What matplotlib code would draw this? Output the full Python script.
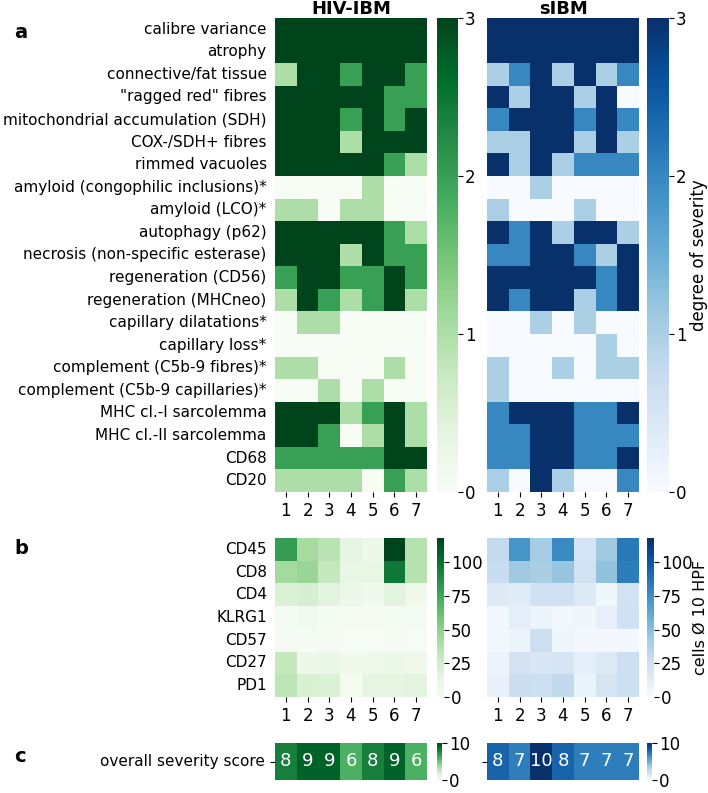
import numpy as np
import matplotlib
matplotlib.use("Agg")
import matplotlib.pyplot as plt
import seaborn as sns

matplotlib.rc('font', size=11)

patients = ['1', '2', '3', '4', '5', '6', '7']

rows_a = ['calibre variance', 'atrophy', 'connective/fat tissue',
          '"ragged red" fibres', 'mitochondrial accumulation (SDH)',
          'COX-/SDH+ fibres', 'rimmed vacuoles',
          'amyloid (congophilic inclusions)*', 'amyloid (LCO)*',
          'autophagy (p62)', 'necrosis (non-specific esterase)',
          'regeneration (CD56)', 'regeneration (MHCneo)',
          'capillary dilatations*', 'capillary loss*',
          'complement (C5b-9 fibres)*', 'complement (C5b-9 capillaries)*',
          'MHC cl.-I sarcolemma', 'MHC cl.-II sarcolemma', 'CD68', 'CD20']

hiv_a = [[3, 3, 3, 3, 3, 3, 3],
         [3, 3, 3, 3, 3, 3, 3],
         [1, 3, 3, 2, 3, 3, 2],
         [3, 3, 3, 3, 3, 2, 2],
         [3, 3, 3, 2, 3, 2, 3],
         [3, 3, 3, 1, 3, 3, 3],
         [3, 3, 3, 3, 3, 2, 1],
         [0, 0, 0, 0, 1, 0, 0],
         [1, 1, 0, 1, 1, 0, 0],
         [3, 3, 3, 3, 3, 2, 1],
         [3, 3, 3, 1, 3, 2, 2],
         [2, 3, 3, 2, 2, 3, 2],
         [1, 3, 2, 1, 2, 3, 1],
         [0, 1, 1, 0, 0, 0, 0],
         [0, 0, 0, 0, 0, 0, 0],
         [1, 1, 0, 0, 0, 1, 0],
         [0, 0, 1, 0, 1, 0, 0],
         [3, 3, 3, 1, 2, 3, 1],
         [3, 3, 2, 0, 1, 3, 1],
         [2, 2, 2, 2, 2, 3, 3],
         [1, 1, 1, 1, 0, 2, 1]]

sibm_a = [[3, 3, 3, 3, 3, 3, 3],
          [3, 3, 3, 3, 3, 3, 3],
          [1, 2, 3, 1, 3, 1, 2],
          [3, 1, 3, 3, 1, 3, 0],
          [2, 3, 3, 3, 2, 3, 2],
          [1, 1, 3, 3, 1, 3, 1],
          [3, 1, 3, 1, 2, 2, 2],
          [0, 0, 1, 0, 0, 0, 0],
          [1, 0, 0, 0, 1, 0, 0],
          [3, 2, 3, 1, 3, 3, 1],
          [2, 2, 3, 3, 2, 1, 3],
          [3, 3, 3, 3, 3, 2, 3],
          [3, 2, 3, 3, 1, 2, 3],
          [0, 0, 1, 0, 1, 0, 0],
          [0, 0, 0, 0, 0, 1, 0],
          [1, 0, 0, 1, 0, 1, 1],
          [1, 0, 0, 0, 0, 0, 0],
          [2, 3, 3, 3, 2, 2, 3],
          [2, 2, 3, 3, 2, 2, 2],
          [2, 2, 3, 3, 2, 2, 3],
          [1, 0, 3, 1, 0, 0, 2]]

rows_b = ['CD45', 'CD8', 'CD4', 'KLRG1', 'CD57', 'CD27', 'PD1']

hiv_b = [[80, 42, 35, 14, 8, 118, 36],
         [43, 47, 30, 12, 12, 97, 36],
         [20, 22, 16, 8, 6, 16, 7],
         [3, 4, 3, 2, 2, 3, 2],
         [2, 3, 2, 1, 1, 2, 1],
         [30, 8, 11, 6, 7, 10, 7],
         [33, 21, 20, 3, 14, 14, 16]]

sibm_b = [[30, 72, 42, 77, 21, 44, 85],
          [28, 44, 40, 47, 23, 48, 83],
          [15, 14, 24, 24, 16, 5, 23],
          [4, 12, 7, 4, 5, 10, 24],
          [4, 7, 26, 5, 3, 3, 3],
          [6, 22, 18, 20, 11, 16, 25],
          [9, 27, 26, 31, 8, 20, 25]]

score_hiv = [[8, 9, 9, 6, 8, 9, 6]]
score_sibm = [[8, 7, 10, 8, 7, 7, 7]]

W, H = 708, 793
fig = plt.figure(figsize=(W / 100, H / 100), dpi=100)


def box(x0, x1, y0, y1):
    # pixel box -> figure fraction
    return [x0 / W, 1 - y1 / H, (x1 - x0) / W, (y1 - y0) / H]


ax_a1 = fig.add_axes(box(275, 427, 18, 492))
cax_a1 = fig.add_axes(box(437, 458, 18, 492))
ax_a2 = fig.add_axes(box(487, 639, 18, 492))
cax_a2 = fig.add_axes(box(647, 669, 18, 492))

ax_b1 = fig.add_axes(box(275, 427, 538, 697))
cax_b1 = fig.add_axes(box(437, 444, 538, 697))
ax_b2 = fig.add_axes(box(487, 639, 538, 697))
cax_b2 = fig.add_axes(box(647, 654, 538, 697))

ax_c1 = fig.add_axes(box(275, 427, 743, 780))
cax_c1 = fig.add_axes(box(437, 442, 743, 780))
ax_c2 = fig.add_axes(box(487, 639, 743, 780))
cax_c2 = fig.add_axes(box(647, 652, 743, 780))

# panel a
sns.heatmap(np.array(hiv_a), cmap='Greens', vmin=0, vmax=3, ax=ax_a1, cbar_ax=cax_a1,
            xticklabels=patients, yticklabels=rows_a, cbar_kws={'ticks': [0, 1, 2, 3]})
sns.heatmap(np.array(sibm_a), cmap='Blues', vmin=0, vmax=3, ax=ax_a2, cbar_ax=cax_a2,
            xticklabels=patients, yticklabels=False, cbar_kws={'ticks': [0, 1, 2, 3]})
ax_a1.set_title('HIV-IBM', fontweight='bold', fontsize=13, pad=1)
ax_a2.set_title('sIBM', fontweight='bold', fontsize=13, pad=1)

# panel b
vmax_b = max(np.max(hiv_b), np.max(sibm_b))
sns.heatmap(np.array(hiv_b), cmap='Greens', vmin=0, vmax=vmax_b, ax=ax_b1, cbar_ax=cax_b1,
            xticklabels=patients, yticklabels=rows_b, cbar_kws={'ticks': [0, 25, 50, 75, 100]})
sns.heatmap(np.array(sibm_b), cmap='Blues', vmin=0, vmax=vmax_b, ax=ax_b2, cbar_ax=cax_b2,
            xticklabels=patients, yticklabels=False, cbar_kws={'ticks': [0, 25, 50, 75, 100]})

# panel c
sns.heatmap(np.array(score_hiv), cmap='Greens', vmin=0, vmax=10, ax=ax_c1, cbar_ax=cax_c1,
            annot=True, annot_kws={'color': 'white', 'fontsize': 13},
            xticklabels=False, yticklabels=['overall severity score'],
            cbar_kws={'ticks': [0, 10]})
sns.heatmap(np.array(score_sibm), cmap='Blues', vmin=0, vmax=10, ax=ax_c2, cbar_ax=cax_c2,
            annot=True, annot_kws={'color': 'white', 'fontsize': 13},
            xticklabels=False, yticklabels=[''], cbar_kws={'ticks': [0, 10]})

for ax in [ax_a1, ax_a2, ax_b1, ax_b2]:
    ax.tick_params(axis='y', length=0, rotation=0, pad=6, labelsize=11)
    ax.tick_params(axis='x', rotation=0, labelsize=12)
for ax in [ax_c1, ax_c2]:
    ax.tick_params(axis='y', rotation=0, labelsize=11)
for cax in [cax_a1, cax_a2, cax_b1, cax_b2, cax_c1, cax_c2]:
    cax.tick_params(labelsize=12, pad=1.5)

# colorbar titles
fig.text(699 / W, 1 - 255 / H, 'degree of severity', rotation=90,
         ha='center', va='center', fontsize=12)
fig.text(700 / W, 1 - 617 / H, 'cells Ø 10 HPF', rotation=90,
         ha='center', va='center', fontsize=11.5)

fig.text(0.02, 1 - 33 / H, 'a', fontweight='bold', fontsize=14, va='center')
fig.text(0.02, 1 - 549 / H, 'b', fontweight='bold', fontsize=14, va='center')
fig.text(0.02, 1 - 757 / H, 'c', fontweight='bold', fontsize=14, va='center')

fig.savefig('out.png', dpi=100)
